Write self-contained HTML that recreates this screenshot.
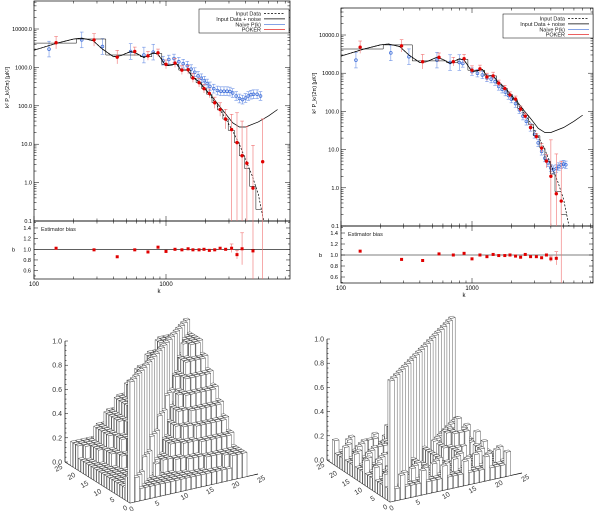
<!DOCTYPE html>
<html><head><meta charset="utf-8"><style>
html,body{margin:0;padding:0;background:#fff;}
svg{display:block;font-family:"Liberation Sans",sans-serif;}
</style></head><body>
<svg id="fig" width="600" height="511" viewBox="0 0 600 511" xmlns="http://www.w3.org/2000/svg">
<defs>
<clipPath id="clipL"><rect x="34" y="1" width="256" height="220"/></clipPath>
<clipPath id="clipR"><rect x="341" y="8" width="252" height="218"/></clipPath>
<clipPath id="clipLb"><rect x="34" y="221" width="256" height="58"/></clipPath>
<clipPath id="clipRb"><rect x="341" y="226" width="252" height="57"/></clipPath>
</defs>
</svg>
<script>
// ---------- data ----------
const theoryL = [100,150,200,230,280,330,400,450,540,600,680,800,870,1000,1100,1200,1300,1450,1600,1800,2000,2200,2500,2800,3200,3600,4000,4500,5000,5500];
const theoryV = [2800,4300,5500,5800,5000,3000,1900,2000,2600,2300,1800,2400,2200,1100,1150,1250,850,850,550,400,250,170,90,50,22,10,4,1.5,0.5,0.1];
const noisyL = [100,150,200,230,280,330,400,450,540,600,680,800,870,1000,1100,1200,1300,1450,1600,1800,2000,2200,2500,2800,3200,3600,4000,5000,6000,7000];
const noisyV = [2800,4300,5500,5800,5000,3000,1900,2000,2600,2300,1800,2400,2200,1100,1150,1250,850,860,560,410,265,185,105,65,36,28,28,38,55,80];
const binEdges = [100,210,350,480,640,780,930,1070,1250,1390,1540,1690,1860,2030,2230,2450,2700,2960,3300,3600,3950,4300,4800,5300];
const binVals = [4300,5500,2100,2100,1900,2300,1200,1200,850,850,520,400,280,200,120,78,45,23,11,5,2.3,0.8,0.2];

const pokerL_A = [147,285,427,580,730,870,1000,1170,1320,1470,1600,1780,1940,2130,2340,2570,2830,3140,3450,3770,4100,4560,5400];
const pokerV_A = [4400,5200,1850,2600,2000,2400,1200,1300,850,870,530,400,280,210,120,80,45,24,11,5,3.2,0.72,3.5];
const pokerE_A = [0.45,0.45,0.5,0.3,0.3,0.25,0.3,0.3,0.3,0.3,0.3,0.3,0.3,0.3,0.4,0.5,0.8,1.5,5,7,8,12,12];
const biasV_A = [1.02,0.99,0.86,0.99,0.95,1.04,0.96,1.0,0.99,1.01,0.99,0.99,1.0,0.98,0.99,1.02,1.0,1.02,0.9,1.01,null,0.97,null];
const biasE_A = [0,0,0,0,0,0,0,0,0,0,0,0,0,0,0,0,0,0.08,0.08,0.3,0,1.2,1.5];
const naiveL_A = [130,230,330,540,680,800,950,1050,1150,1250,1350,1450,1550,1650,1750,1850,1950,2050,2150,2300,2450,2600,2750,2900,3050,3200,3400,3600,3800,4000,4200,4400,4600,4900,5200];
const naiveV_A = [3000,5200,3500,2600,2100,2500,1500,1600,1700,1400,1250,1100,900,750,600,520,450,380,320,280,250,240,240,240,235,215,180,155,145,160,180,195,200,200,180];

const pokerL_B = [140,290,420,560,720,870,1000,1150,1300,1450,1600,1780,1950,2150,2350,2550,2800,3100,3400,3700,4000,4400,4800];
const pokerV_B = [4800,5200,2000,2600,2000,2400,1200,1300,800,850,550,400,270,210,115,75,38,22,11,5,2,0.7,0.45];
const pokerE_B = [0.45,0.45,0.55,0.3,0.3,0.3,0.3,0.25,0.25,0.25,0.2,0.2,0.2,0.2,0.2,0.2,0.2,0.2,0.3,0.5,8,10,10];
const biasV_B = [1.07,0.92,0.9,1.02,1.0,1.03,0.93,1.0,0.97,1.01,0.99,0.99,1.0,0.98,0.96,1.01,0.97,0.97,0.95,1.0,0.93,0.94,null];
const biasE_B = [0,0,0,0,0,0,0,0,0,0,0,0,0,0,0,0,0,0,0,0,0.05,0.12,1.5];
const naiveL_B = [130,240,330,540,680,800,850,1000,1100,1200,1300,1400,1500,1600,1700,1800,1900,2000,2150,2300,2450,2600,2800,3000,3200,3400,3600,3800,4000,4200,4400,4600,4800,5000,5200];
const naiveV_B = [2200,3400,2700,2200,1900,1900,1800,1100,1000,900,750,700,600,450,380,320,260,210,160,110,75,55,38,25,15,9,6,4.5,3.3,3,3.2,3.6,4,4.2,4];

// correlation matrices: upper triangle rows starting at the diagonal (digit = tenths, A = 1.0), mirrored
const corrA = [
"A2111111111111111111222","A211111111111111112222","A21111111111112222222","A3111111112222222222",
"A312111222223333332","A31122223333333333","A4222333334444443","A422333444444444",
"A42334445555554","A5334555555555","A534556666665","A54566666666",
"A6566777776","A656777777","A67788887","A7788888",
"A788998","A89999","A8999","A999","A99","A9","A"];
const corrB = [
"A1211121112111211121112","A121112111211121112111","A11211121112111211121","A1121112111211121112",
"A112111211121112111","A12111211121112111","A2111211121112111","A111211122211121",
"A11211223332111","A1211233432111","A211233321111","A11122221111",
"A1211121112","A121112111","A12111211","A1211121",
"A121112","A12111","A1211","A121","A12","A1","A"];

// ---------- helpers ----------
const svg = document.getElementById('fig');
const NS = 'http://www.w3.org/2000/svg';
function mk(tag, attrs, parent) {
  const e = document.createElementNS(NS, tag);
  for (const k in attrs) e.setAttribute(k, attrs[k]);
  (parent || svg).appendChild(e);
  return e;
}
const lg = Math.log10;

function panel(P) {
  const g = mk('g', {});
  
  
  const X = l => P.x0 + P.dec * (lg(l) - 2);
  const Y = v => P.yMain - P.decY * (lg(v) + 1);
  const B = b => P.yB1 - (b - 1) * P.bs;
  const xMaxL = Math.pow(10, 2 + (P.x1 - P.x0) / P.dec);
  const f1 = mk('rect', {x:P.x0, y:P.yTop, width:P.x1-P.x0, height:P.yMain-P.yTop, fill:'none', stroke:'#000', 'stroke-width':0.7}, g);
  
  
  const f2 = mk('rect', {x:P.x0, y:P.yMain, width:P.x1-P.x0, height:P.yBot-P.yMain, fill:'none', stroke:'#000', 'stroke-width':0.7}, g);
  
  
  for (let d = 100; d <= 10000; d *= 10) for (let m = 1; m < 10; m++) {
    const l = d * m; if (l > xMaxL) continue;
    const x = X(l), len = m === 1 ? 5 : 2.5;
    for (const [y, s] of [[P.yTop, 1], [P.yMain, -1], [P.yMain, 1], [P.yBot, -1]])
      mk('line', {x1:x, x2:x, y1:y, y2:y + s * len, stroke:'#000', 'stroke-width':0.5}, g);
  }
  for (const l of [100, 1000]) {
    const t = mk('text', {x:X(l), y:P.yBot + 7, 'font-size':6, 'text-anchor':'middle'}, g);
    t.textContent = String(l);
    
    
  }
  const xt = mk('text', {x:(P.x0 + P.x1) / 2 - 3, y:P.yBot + 14, 'font-size':6, 'text-anchor':'middle'}, g);
  xt.textContent = 'k';
  
  
  const yLab = ['0.1','1.0','10.0','100.0','1000.0','10000.0'];
  for (let e = -1; e <= 4; e++) for (let m = 1; m < 10; m++) {
    const v = Math.pow(10, e) * m, y = Y(v);
    if (y < P.yTop) continue;
    const len = m === 1 ? 5 : 2.5;
    mk('line', {x1:P.x0, x2:P.x0 + len, y1:y, y2:y, stroke:'#000', 'stroke-width':0.5}, g);
    mk('line', {x1:P.x1, x2:P.x1 - len, y1:y, y2:y, stroke:'#000', 'stroke-width':0.5}, g);
    if (m === 1) {
      const t = mk('text', {x:P.x0 - 2, y:y + 2, 'font-size':5.5, 'text-anchor':'end'}, g);
      t.textContent = yLab[e + 1];
      
      
    }
  }
  const yt = mk('text', {x:0, y:0, 'font-size':5.5, 'text-anchor':'middle', transform:`translate(${P.x0 - 25},${Y(300)}) rotate(-90)`}, g);
  yt.textContent = 'k² P_k/(2π) [μK²]';
  
  
  for (let b = 0.5; b <= 1.51; b += 0.1) {
    const y = B(b); if (y > P.yBot || y < P.yMain) continue;
    const major = Math.round(b * 10) % 2 === 0;
    mk('line', {x1:P.x0, x2:P.x0 + (major ? 4 : 2), y1:y, y2:y, stroke:'#000', 'stroke-width':0.5}, g);
    mk('line', {x1:P.x1, x2:P.x1 - (major ? 4 : 2), y1:y, y2:y, stroke:'#000', 'stroke-width':0.5}, g);
    if (major) {
      const t = mk('text', {x:P.x0 - 3, y:y + 2, 'font-size':5.5, 'text-anchor':'end'}, g);
      t.textContent = b.toFixed(1);
      
      
    }
  }
  const bt = mk('text', {x:P.x0 - 22, y:B(1) + 2, 'font-size':5.5}, g);
  bt.textContent = 'b';
  
  
  const bl = mk('line', {x1:P.x0, x2:P.x1, y1:B(1), y2:B(1), stroke:'#000', 'stroke-width':0.6}, g);
  
  
  const el = mk('text', {x:P.x0 + 7, y:P.yMain + 10, 'font-size':5.5, fill:'#222'}, g);
  el.textContent = 'Estimator bias';
  
  

  const cg = mk('g', {'clip-path':`url(#${P.clip})`}, g);
  const naive = mk('g', {}, cg);
  
  
  P.nL.forEach((l, i) => {
    const v = P.nV[i], x = X(l), e = P.nErr(i);
    mk('line', {x1:x, x2:x, y1:Y(v * (1 + e)), y2:Y(v / (1 + e)), stroke:'#6f93e6', 'stroke-width':0.6}, naive);
    mk('line', {x1:x - 1.8, x2:x + 1.8, y1:Y(v * (1 + e)), y2:Y(v * (1 + e)), stroke:'#6f93e6', 'stroke-width':0.6}, naive);
    mk('line', {x1:x - 1.8, x2:x + 1.8, y1:Y(v / (1 + e)), y2:Y(v / (1 + e)), stroke:'#6f93e6', 'stroke-width':0.6}, naive);
    const pt = mk('circle', {cx:x, cy:Y(v), r:1.4, fill:'none', stroke:'#3a6bd8', 'stroke-width':0.7}, naive);
    
    
  });
  const pathOf = (Ls, Vs) => Ls.map((l, i) => (i ? 'L' : 'M') + X(l).toFixed(1) + ',' + Y(Vs[i]).toFixed(1)).join('');
  const tl = mk('path', {d:pathOf(theoryL, theoryV), fill:'none', stroke:'#000', 'stroke-width':0.7, 'stroke-dasharray':'2,1.5'}, cg);
  
  
  const nl = mk('path', {d:pathOf(noisyL, noisyV), fill:'none', stroke:'#000', 'stroke-width':0.7}, cg);
  
  
  let sd = '';
  binVals.forEach((v, i) => { sd += (i ? 'L' : 'M') + X(binEdges[i]).toFixed(1) + ',' + Y(v).toFixed(1) + 'L' + X(binEdges[i + 1]).toFixed(1) + ',' + Y(v).toFixed(1); });
  const st = mk('path', {d:sd, fill:'none', stroke:'#000', 'stroke-width':0.5}, cg);
  
  
  const pk = mk('g', {}, cg);
  
  
  P.pL.forEach((l, i) => {
    const v = P.pV[i], e = P.pE[i], x = X(l);
    const hi = v * (1 + e), lo = v - v * Math.min(e, 0.999) * (e > 0.9 ? 1 : 1 / (1 + e));
    const yl = lo <= 0 ? 300 : Y(lo);
    mk('line', {x1:x, x2:x, y1:Y(hi), y2:yl, stroke:'#f07070', 'stroke-width':0.6}, pk);
    mk('line', {x1:x - 1.8, x2:x + 1.8, y1:Y(hi), y2:Y(hi), stroke:'#f07070', 'stroke-width':0.6}, pk);
    const pt = mk('circle', {cx:x, cy:Y(v), r:1.7, fill:'#e00000'}, pk);
    
    
  });
  const bg = mk('g', {'clip-path':`url(#${P.clipB})`}, g);
  
  
  P.pL.forEach((l, i) => {
    const b = P.bV[i], e = P.bE[i], x = X(l);
    const c = b == null ? 1 : b;
    if (e > 0) {
      mk('line', {x1:x, x2:x, y1:B(c + e), y2:B(c - e), stroke:'#f07070', 'stroke-width':0.6}, bg);
      mk('line', {x1:x - 1.8, x2:x + 1.8, y1:B(c + e), y2:B(c + e), stroke:'#f07070', 'stroke-width':0.6}, bg);
    }
    if (b != null) {
      const pt = mk('rect', {x:x - 1.5, y:B(b) - 1.5, width:3, height:3, fill:'#e00000'}, bg);
      
      
    }
  });
  const L = mk('g', {}, g);
  
  
  mk('rect', {x:P.lx, y:P.ly, width:P.lw, height:24, fill:'#fff', stroke:'#000', 'stroke-width':0.5}, L);
  const entries = [['Input Data', '#000', '2,1.5'], ['Input Data + noise', '#000', ''], ['Naive P(k)', '#3a6bd8', ''], ['POKER', '#e00000', '']];
  entries.forEach((en, i) => {
    const y = P.ly + 4.5 + i * 5.4;
    const t = mk('text', {x:P.lx + P.lw - 28, y:y + 2, 'font-size':5.5, 'text-anchor':'end', fill:'#222'}, L);
    t.textContent = en[0];
    
    
    mk('line', {x1:P.lx + P.lw - 25, x2:P.lx + P.lw - 4, y1:y, y2:y, stroke:en[1], 'stroke-width':0.7, 'stroke-dasharray':en[2]}, L);
  });
}

panel({name:'left-power-spectrum-panel', x0:34, x1:290, dec:132, yTop:1, yMain:221, decY:38.4, yB1:249.3, bs:53.3, yBot:279,
  clip:'clipL', clipB:'clipLb', nL:naiveL_A, nV:naiveV_A, nErr:i => (i < 6 ? 0.6 : 0.3),
  pL:pokerL_A, pV:pokerV_A, pE:pokerE_A, bV:biasV_A, bE:biasE_A, lx:199, ly:9, lw:90});
panel({name:'right-power-spectrum-panel', x0:341, x1:593, dec:131, yTop:8, yMain:226, decY:38.2, yB1:255, bs:55, yBot:283,
  clip:'clipR', clipB:'clipRb', nL:naiveL_B, nV:naiveV_B, nErr:i => (i < 6 ? 0.6 : 0.25),
  pL:pokerL_B, pV:pokerV_B, pE:pokerE_B, bV:biasV_B, bE:biasE_B, lx:503, ly:14, lw:90});

// ---------- 3D histograms ----------
function hist3d(name, upper, O, xe, ye) {
  const g = mk('g', {});
  
  
  const ex = [(xe[0] - O[0]) / 25, (xe[1] - O[1]) / 25], ey = [(ye[0] - O[0]) / 25, (ye[1] - O[1]) / 25], ez = 121;
  const P = (x, y, z) => [O[0] + x * ex[0] + y * ey[0], O[1] + x * ex[1] + y * ey[1] - z * ez];
  const pts = a => a.map(p => p[0].toFixed(1) + ',' + p[1].toFixed(1)).join(' ');
  mk('polyline', {points:pts([P(0,25,0), P(0,0,0), P(25,0,0)]), fill:'none', stroke:'#000', 'stroke-width':0.7}, g);
  mk('line', {x1:P(0,25,0)[0], x2:P(0,25,0)[0], y1:P(0,25,0)[1], y2:P(0,25,1)[1], stroke:'#000', 'stroke-width':0.7}, g);
  for (let k = 0; k <= 25; k++) {
    const len = k % 5 === 0 ? 3 : 1.5;
    const zb = P(0, 25, k / 25);
    mk('line', {x1:zb[0], x2:zb[0] + len, y1:zb[1], y2:zb[1], stroke:'#000', 'stroke-width':0.5}, g);
  }
  for (let k = 0; k <= 5; k++) {
    const zb = P(0, 25, k / 5);
    const t = mk('text', {x:zb[0] - 3, y:zb[1] + 2.5, 'font-size':7, 'text-anchor':'end', fill:'#333'}, g);
    t.textContent = (k / 5).toFixed(1);
    
    
    const xv = k * 5;
    const px = P(xv, 0, 0);
    const tx = mk('text', {x:0, y:0, 'font-size':7, fill:'#333', transform:`translate(${px[0] + 1},${px[1] + 9}) rotate(-30)`}, g);
    tx.textContent = String(xv);
    
    
    const py = P(0, xv, 0);
    const ty = mk('text', {x:0, y:0, 'font-size':7, fill:'#333', 'text-anchor':'end', transform:`translate(${py[0] - 2},${py[1] + 6}) rotate(-30)`}, g);
    ty.textContent = String(xv);
    
    
  }
  const N = upper.length, w = 0.85;
  const val = (r, c) => {
    const a = Math.min(r, c), b = Math.max(r, c);
    const ch = upper[a][b - a];
    return ch === undefined ? 0 : parseInt(ch, 36) / 10;
  };
  const cells = [];
  for (let r = 0; r < N; r++) for (let c = 0; c < N; c++) cells.push([c, r, val(r, c)]);
  cells.sort((a, b) => (b[0] + b[1]) - (a[0] + a[1]));
  const bars = mk('g', {fill:'#fff', stroke:'#333', 'stroke-width':0.4, 'stroke-linejoin':'round'}, g);
  
  
  for (const [c, r, h] of cells) {
    if (h <= 0) continue;
    const bar = mk('g', {}, bars);
    
    
    mk('polygon', {points:pts([P(c, r, 0), P(c, r + w, 0), P(c, r + w, h), P(c, r, h)])}, bar);
    mk('polygon', {points:pts([P(c, r, 0), P(c + w, r, 0), P(c + w, r, h), P(c, r, h)])}, bar);
    mk('polygon', {points:pts([P(c, r, h), P(c + w, r, h), P(c + w, r + w, h), P(c, r + w, h)])}, bar);
  }
}
hist3d('left-correlation-histogram', corrA, [130, 503], [258, 474], [65, 462]);
hist3d('right-correlation-histogram', corrB, [390, 502], [522, 473], [327, 460]);
</script>
</body></html>
